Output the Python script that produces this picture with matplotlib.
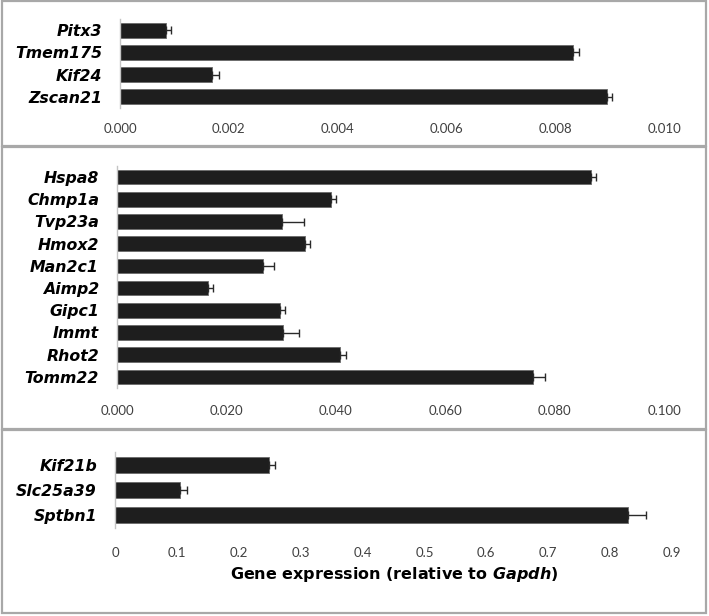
import numpy as np
import matplotlib
matplotlib.use("Agg")
import matplotlib.pyplot as plt
from matplotlib.patches import Rectangle

# panel 1
genes_1 = ["Pitx3", "Tmem175", "Kif24", "Zscan21"]
vals_1 = [0.00085, 0.00833, 0.00169, 0.00895]
err_1 = [0.00008, 0.0001, 0.00013, 0.0001]
ticks_1 = [0.000, 0.002, 0.004, 0.006, 0.008, 0.010]
ticklab_1 = ["0.000", "0.002", "0.004", "0.006", "0.008", "0.010"]

# panel 2
genes_2 = ["Hspa8", "Chmp1a", "Tvp23a", "Hmox2", "Man2c1", "Aimp2", "Gipc1", "Immt", "Rhot2", "Tomm22"]
vals_2 = [0.0867, 0.0391, 0.0301, 0.0344, 0.0266, 0.0167, 0.0298, 0.0303, 0.0408, 0.0761]
err_2 = [0.0009, 0.0009, 0.0041, 0.0009, 0.0021, 0.0009, 0.0009, 0.003, 0.001, 0.0022]
ticks_2 = [0.0, 0.02, 0.04, 0.06, 0.08, 0.1]
ticklab_2 = ["0.000", "0.020", "0.040", "0.060", "0.080", "0.100"]

# panel 3
genes_3 = ["Kif21b", "Slc25a39", "Sptbn1"]
vals_3 = [0.249, 0.105, 0.829]
err_3 = [0.0097, 0.0113, 0.029]
ticks_3 = [0, 0.1, 0.2, 0.3, 0.4, 0.5, 0.6, 0.7, 0.8, 0.9]
ticklab_3 = ["0", "0.1", "0.2", "0.3", "0.4", "0.5", "0.6", "0.7", "0.8", "0.9"]

W, H = 709, 616
fig = plt.figure(figsize=(W / 100, H / 100), dpi=100)
fig.patch.set_facecolor("white")


def px_axes(x0, x1, y0, y1):
    return fig.add_axes([x0 / W, 1 - y1 / H, (x1 - x0) / W, (y1 - y0) / H])


def panel(ax, genes, vals, errs, ticks, labs, xmax, bh, lab_pad):
    pos = np.arange(len(genes))
    ax.barh(pos, vals, height=bh, color="#1e1e1e", edgecolor="#6a6a6a", linewidth=0.6, zorder=2)
    ax.errorbar(vals, pos, xerr=[np.zeros(len(vals)), errs], fmt="none",
                ecolor="#2a2a2a", elinewidth=1.0, capsize=2.6, capthick=1.0, zorder=3)
    ax.set_xlim(0, xmax)
    ax.set_ylim(len(genes) - 0.5, -0.5)
    ax.set_yticks(pos)
    ax.set_yticklabels(genes, fontfamily="DejaVu Sans", fontweight="bold",
                       fontstyle="italic", fontsize=11.3)
    ax.set_xticks(ticks)
    ax.set_xticklabels(labs, fontfamily="Lato", fontsize=9.5, color="#404040")
    ax.tick_params(axis="y", length=0, pad=13)
    ax.tick_params(axis="x", length=0, pad=lab_pad)
    for s in ["top", "right", "bottom"]:
        ax.spines[s].set_visible(False)
    ax.spines["left"].set_color("#c4c4c4")
    ax.spines["left"].set_linewidth(1.0)
    ax.patch.set_alpha(0)


ax1 = px_axes(120, 664, 19, 108)
panel(ax1, genes_1, vals_1, err_1, ticks_1, ticklab_1, 0.010, 0.67, 11)

ax2 = px_axes(117, 664, 166, 388)
panel(ax2, genes_2, vals_2, err_2, ticks_2, ticklab_2, 0.1, 0.66, 12)

ax3 = px_axes(115, 672, 452, 528)
panel(ax3, genes_3, vals_3, err_3, ticks_3, ticklab_3, 0.9, 0.63, 14)

# panel boxes
for (y0, y1) in [(1, 146), (147, 429), (430, 613)]:
    fig.patches.append(Rectangle((1.5 / W, 1 - y1 / H), 704.5 / W, (y1 - y0) / H,
                                 transform=fig.transFigure, fill=False,
                                 edgecolor="#a8a8a8", linewidth=1.6))

fig.text(394 / W, 1 - 575 / H, r"Gene expression (relative to $\mathbfit{Gapdh}$)",
         ha="center", va="center", fontsize=11.5, fontweight="bold",
         fontfamily="DejaVu Sans")
plt.rcParams["mathtext.fontset"] = "dejavusans"

fig.savefig("out.png", dpi=100)
